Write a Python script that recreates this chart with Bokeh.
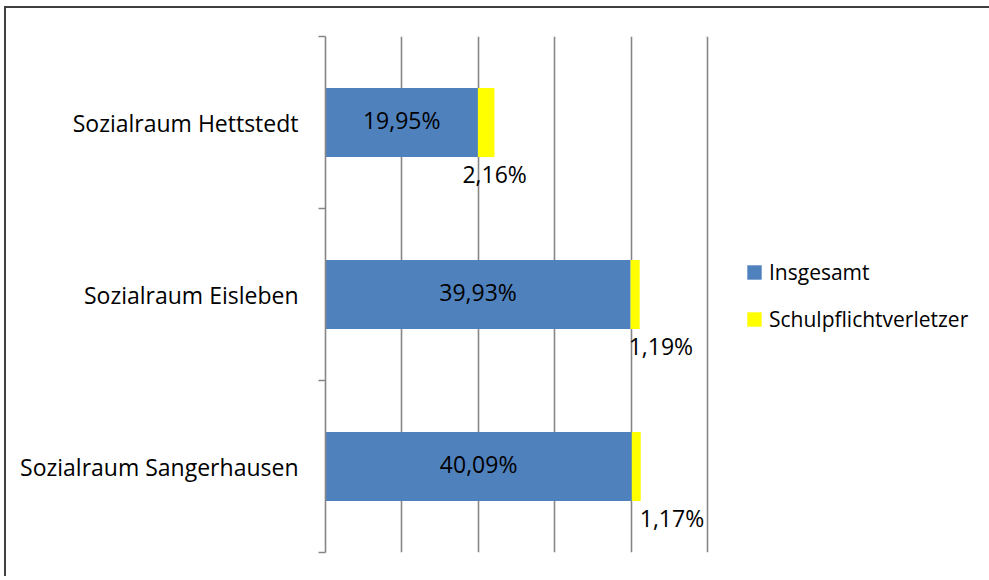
from bokeh.plotting import figure
from bokeh.models import ColumnDataSource, FixedTicker, Legend, LegendItem
from bokeh.core.properties import value
from bokeh.embed import file_html
from bokeh.resources import INLINE

# ---- data ----
categories = ["Sozialraum Hettstedt", "Sozialraum Eisleben", "Sozialraum Sangerhausen"]
insgesamt = [19.95, 39.93, 40.09]
schulpflicht = [2.16, 1.19, 1.17]
series_names = ["Insgesamt", "Schulpflichtverletzer"]
grid_ticks = [0, 10, 20, 30, 40, 50]

# styling for the small labels (pixel nudges)
small_label_dx = [-32, -11, -1]

n = len(categories)
ypos = [n - i - 0.5 for i in range(n)]
totals = [a + b for a, b in zip(insgesamt, schulpflicht)]
fmt = lambda v: f"{v:.2f}".replace(".", ",") + "%"

src = ColumnDataSource(dict(
    y=ypos, insg=insgesamt, schul=schulpflicht, total=totals,
    mid=[v / 2 for v in insgesamt],
    lab_i=[fmt(v) for v in insgesamt],
    lab_s=[fmt(v) for v in schulpflicht],
    dx=small_label_dx,
))

FONT = "Open Sans"
GRID = "#868686"

p = figure(frame_width=386, frame_height=516, x_range=(0, 50.52), y_range=(0, n),
           output_backend="svg", toolbar_location=None,
           min_border_left=319, min_border_right=10,
           min_border_top=28, min_border_bottom=24)
p.styles = {"border-left": "2px solid #404040", "border-top": "2px solid #404040",
            "margin-left": "4px", "margin-top": "6px"}
p.outline_line_color = None
p.background_fill_color = "white"
p.border_fill_color = "white"

p.xaxis.visible = False
p.xgrid.ticker = FixedTicker(ticks=grid_ticks)
p.xgrid.grid_line_color = GRID
p.xgrid.grid_line_width = 1.6
p.ygrid.grid_line_color = None

ya = p.yaxis[0]
ya.ticker = FixedTicker(ticks=ypos, minor_ticks=list(range(n + 1)))
ya.major_label_overrides = {y: c for y, c in zip(ypos, categories)}
ya.major_tick_in = 0
ya.major_tick_out = 0
ya.minor_tick_in = 0
ya.minor_tick_out = 7
ya.minor_tick_line_color = GRID
ya.minor_tick_line_width = 1.6
ya.axis_line_color = GRID
ya.axis_line_width = 1.6
ya.major_label_text_font = FONT
ya.major_label_text_font_size = "23px"
ya.major_label_text_color = "black"
ya.major_label_standoff = 20

r1 = p.hbar(y="y", left=0, right="insg", height=0.4, source=src,
            fill_color="#4F81BD", line_color=None)
r2 = p.hbar(y="y", left="insg", right="total", height=0.4, source=src,
            fill_color="#FFFF00", line_color=None)

p.text(x="mid", y="y", text="lab_i", source=src, y_offset=-3, text_align="center",
       text_baseline="middle", text_font=value(FONT), text_font_size="23px",
       text_color="black")
p.text(x="total", y="y", text="lab_s", source=src, x_offset="dx", y_offset=51,
       text_align="left", text_baseline="middle", text_font=value(FONT),
       text_font_size="23px", text_color="black")

legend = Legend(items=[LegendItem(label=series_names[0], renderers=[r1]),
                       LegendItem(label=series_names[1], renderers=[r2])],
                location=(34, 219), orientation="vertical")
legend.glyph_width = 18
legend.glyph_height = 18
legend.label_standoff = 6
legend.spacing = 19
legend.padding = 0
legend.margin = 0
legend.border_line_color = None
legend.background_fill_alpha = 0
legend.label_text_font = FONT
legend.label_text_font_size = "21px"
legend.label_text_color = "black"
p.add_layout(legend, "right")

open("out.html", "w").write(file_html(p, INLINE))
